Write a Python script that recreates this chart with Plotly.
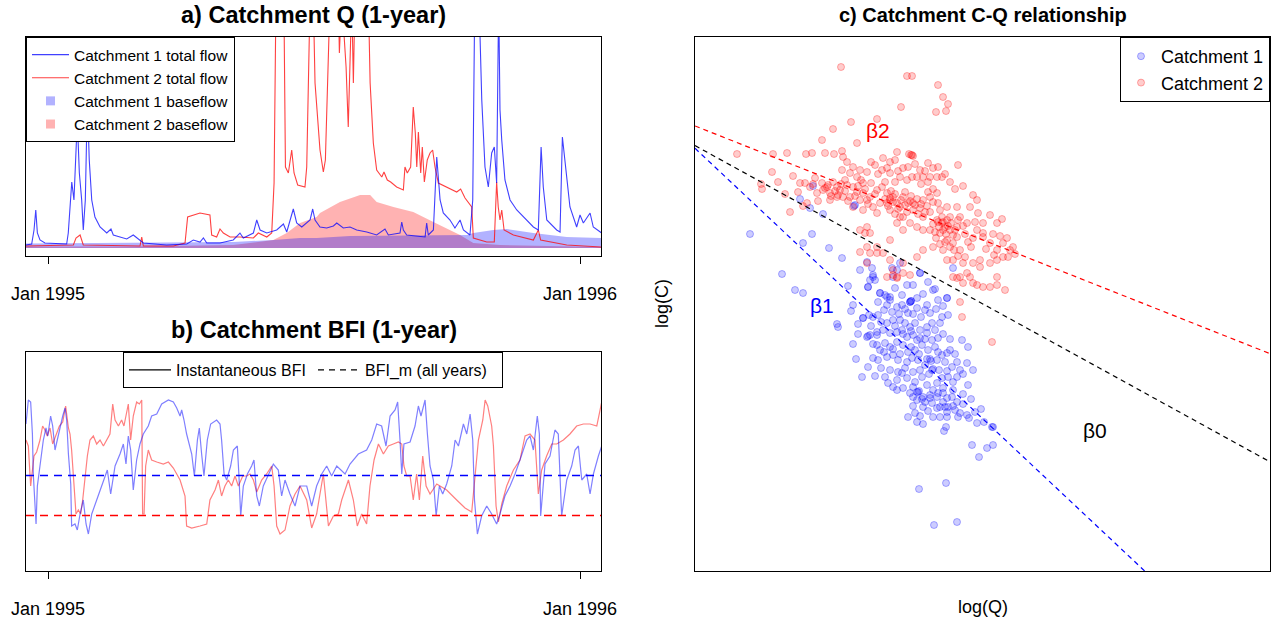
import pandas as pd
import plotly.graph_objects as go

W, H = 1271, 624
FONT = "Liberation Sans, Arial, sans-serif"
BASE = pd.Timestamp("1995-01-01")

# ---------------- data: panel a (day offset from 1 Jan 1995, flow) ----------------
q1_total = [(-15.1, 0.3), (-11.2, 0.4), (-9.6, 1.8), (-8.4, 3.8), (-7.3, 1.5), (-5.5, 0.8), (-2.1, 0.5),
            (12.8, 0.4), (13.9, 1.5), (16.3, 6.6), (17.8, 4.8), (19.2, 8.8), (20.1, 12.8), (21.5, 7.5),
            (23.1, 4.8), (24.2, 1.8), (25.6, 4.8), (27.0, 14.8), (28.3, 8.8), (30.0, 4.8), (32.2, 3.1),
            (35.7, 2.1), (40.3, 1.5), (43.2, 1.9), (44.8, 1.3), (49.4, 1.1), (54.0, 0.9), (58.5, 1.3),
            (60.9, 1.0), (65.4, 0.5), (81.4, 0.3), (95.2, 0.4), (99.7, 0.8), (104.3, 0.6), (106.6, 1.0),
            (108.9, 0.5), (118.0, 0.5), (127.1, 0.8), (131.7, 1.5), (134.0, 1.0), (140.9, 1.5), (143.2, 2.8),
            (145.5, 1.8), (150.1, 1.5), (156.9, 1.8), (161.5, 2.4), (163.8, 1.6), (168.3, 3.9), (170.6, 2.5),
            (174.1, 2.1), (179.8, 2.8), (181.6, 3.9), (183.2, 2.8), (186.6, 2.1), (191.2, 2.0), (195.8, 2.2),
            (198.1, 2.5), (202.6, 2.0), (207.2, 2.1), (211.8, 1.8), (218.7, 1.6), (225.5, 1.3), (231.2, 1.9),
            (233.5, 1.3), (241.5, 1.5), (242.7, 2.6), (243.8, 1.8), (246.1, 1.3), (258.7, 1.1), (259.8, 2.5),
            (260.9, 1.3), (264.4, 1.8), (266.7, 9.1), (269.0, 4.8), (271.2, 3.5), (275.8, 2.8), (279.2, 2.0),
            (282.7, 2.8), (285.0, 1.8), (289.5, 1.3), (291.4, 4.8), (293.0, 28.0), (295.5, 26.0), (297.6, 14.8),
            (299.8, 8.1), (302.1, 6.1), (304.4, 9.5), (306.2, 10.1), (307.8, 6.5), (309.2, 25.0), (310.1, 13.8),
            (311.3, 10.8), (313.5, 6.8), (317.0, 4.8), (321.6, 3.8), (326.1, 3.1), (333.0, 2.1), (336.4, 1.8),
            (337.6, 7.5), (338.3, 10.1), (339.8, 6.1), (342.2, 2.8), (349.0, 1.8), (351.3, 1.6), (352.9, 11.1),
            (354.7, 8.5), (358.1, 4.1), (362.7, 2.1), (365.0, 3.3), (367.3, 2.5), (371.9, 3.5), (374.1, 2.1),
            (379.9, 1.5)]

q2_total = [(-15.1, 0.2), (17.4, 0.3), (19.2, 1.0), (22.0, 1.3), (24.2, 0.3), (63.1, 0.2), (64.3, 1.1),
            (65.4, 0.2), (86.0, 0.2), (94.0, 0.5), (95.8, 3.1), (99.7, 3.3), (104.3, 3.5), (111.1, 3.3),
            (112.3, 1.3), (115.7, 1.1), (118.0, 1.9), (120.3, 1.5), (124.9, 1.1), (131.7, 1.1), (140.9, 1.0),
            (144.3, 1.5), (150.1, 1.1), (153.5, 1.5), (155.1, 6.5), (156.4, 25.0), (161.5, 30.0), (162.9, 8.1),
            (164.9, 7.5), (167.2, 9.8), (168.8, 7.5), (171.3, 6.3), (176.3, 6.1), (177.5, 8.1), (178.6, 14.8),
            (179.8, 25.0), (182.0, 25.0), (183.2, 16.5), (186.6, 9.8), (188.9, 7.6), (190.3, 8.8), (191.6, 14.8),
            (193.5, 25.0), (199.2, 25.0), (199.9, 19.5), (201.5, 25.0), (204.5, 18.1), (206.0, 12.1),
            (207.2, 16.5), (208.4, 25.0), (209.5, 16.5), (210.6, 25.0), (219.8, 25.0), (221.0, 16.5),
            (223.2, 10.5), (225.5, 7.8), (229.0, 7.1), (230.5, 7.6), (232.8, 6.8), (235.1, 6.6), (239.2, 6.1),
            (243.8, 5.8), (244.9, 8.1), (246.5, 7.5), (248.8, 8.1), (250.6, 14.1), (252.0, 11.5), (253.0, 8.1),
            (254.1, 11.6), (255.7, 7.5), (256.8, 10.1), (258.2, 6.6), (260.2, 8.8), (262.1, 9.5), (263.9, 9.8),
            (265.5, 8.1), (267.8, 6.5), (273.5, 6.1), (280.4, 5.6), (283.1, 5.9), (286.1, 5.0), (290.7, 4.1),
            (291.8, 1.0), (301.0, 0.6), (306.2, 0.6), (307.8, 6.6), (308.9, 4.1), (310.1, 2.8), (311.3, 3.8),
            (312.9, 1.8), (319.3, 1.3), (333.0, 0.8), (336.4, 1.8), (338.0, 0.8), (355.9, 0.3), (379.9, 0.1)]

q1_base = [(-15.1, 0.45), (60.0, 0.5), (127.0, 0.6), (154.6, 0.8), (172.9, 1.0), (184.3, 1.0), (207.2, 1.2),
           (287.3, 1.3), (291.8, 1.5), (305.5, 1.8), (314.7, 1.9), (333.0, 1.5), (355.9, 1.1), (379.9, 1.0)]

q2_base = [(-15.1, 0.15), (60.0, 0.15), (127.0, 0.3), (154.6, 0.8), (163.8, 1.5), (172.9, 2.5), (184.3, 3.1),
           (186.6, 3.5), (200.3, 4.6), (214.1, 5.3), (221.0, 5.3), (225.5, 4.6), (237.0, 4.1), (250.6, 3.6),
           (264.4, 2.6), (275.8, 1.8), (282.7, 1.3), (291.8, 0.5), (310.1, 0.3), (379.9, 0.1)]

# ---------------- data: panel b (day offset, instantaneous BFI) ----------------
bfi1 = [(-15.1, 0.83), (-13.5, 0.95), (-11.9, 0.94), (-10.7, 0.78), (-10.1, 0.58), (-8.9, 0.37), (-8.2, 0.33),
        (-7.3, 0.52), (-5.5, 0.62), (-3.2, 0.75), (-1.4, 0.81), (-0.2, 0.77), (1.8, 0.87), (3.2, 0.82),
        (4.8, 0.70), (7.1, 0.78), (10.1, 0.87), (11.7, 0.91), (12.8, 0.85), (14.0, 0.68), (15.6, 0.53),
        (16.2, 0.32), (18.5, 0.33), (20.1, 0.30), (22.0, 0.38), (24.2, 0.45), (26.1, 0.33), (27.7, 0.28),
        (30.0, 0.38), (33.4, 0.45), (36.8, 0.52), (40.7, 0.60), (43.0, 0.48), (46.0, 0.62), (49.4, 0.68),
        (51.7, 0.73), (53.5, 0.63), (55.1, 0.77), (56.7, 0.70), (58.5, 0.50), (60.8, 0.65), (63.1, 0.73),
        (65.4, 0.78), (68.8, 0.82), (71.1, 0.87), (74.6, 0.88), (78.0, 0.93), (82.6, 0.95), (86.0, 0.94),
        (88.3, 0.91), (90.6, 0.87), (91.7, 0.90), (93.3, 0.85), (95.1, 0.78), (98.6, 0.68), (100.4, 0.57),
        (102.5, 0.75), (103.8, 0.81), (105.4, 0.68), (107.0, 0.57), (109.3, 0.75), (111.6, 0.83),
        (115.7, 0.85), (118.0, 0.83), (119.1, 0.75), (120.8, 0.58), (122.6, 0.55), (125.3, 0.62),
        (127.2, 0.70), (129.9, 0.72), (131.0, 0.57), (132.2, 0.37), (134.0, 0.52), (136.8, 0.58),
        (139.7, 0.62), (141.3, 0.65), (143.2, 0.47), (145.0, 0.42), (147.7, 0.52), (151.2, 0.58),
        (154.6, 0.63), (158.0, 0.60), (160.3, 0.47), (162.6, 0.55), (166.0, 0.48), (169.5, 0.42),
        (172.9, 0.52), (177.5, 0.52), (180.9, 0.42), (184.3, 0.52), (187.8, 0.58), (191.2, 0.62),
        (194.6, 0.57), (198.1, 0.62), (203.8, 0.58), (207.2, 0.63), (212.9, 0.68), (218.6, 0.70),
        (222.1, 0.75), (225.5, 0.83), (228.9, 0.82), (231.9, 0.72), (234.7, 0.87), (238.1, 0.90),
        (239.9, 0.94), (241.5, 0.75), (242.7, 0.58), (244.2, 0.73), (248.4, 0.74), (251.8, 0.82),
        (254.1, 0.92), (255.9, 0.87), (258.7, 0.95), (260.3, 0.78), (262.1, 0.62), (264.4, 0.55),
        (266.3, 0.37), (268.5, 0.52), (270.8, 0.48), (273.5, 0.53), (277.0, 0.62), (279.3, 0.75),
        (281.6, 0.72), (285.0, 0.83), (287.3, 0.78), (289.6, 0.88), (291.4, 0.75), (292.6, 0.45),
        (294.6, 0.28), (297.5, 0.37), (301.0, 0.42), (304.4, 0.38), (307.8, 0.33), (310.1, 0.38),
        (313.5, 0.47), (317.0, 0.52), (320.4, 0.58), (323.8, 0.65), (328.4, 0.75), (330.7, 0.77),
        (333.0, 0.70), (335.7, 0.87), (337.1, 0.78), (338.0, 0.37), (341.0, 0.63), (344.4, 0.67),
        (347.8, 0.80), (350.1, 0.78), (352.4, 0.37), (355.9, 0.55), (359.3, 0.62), (361.6, 0.70),
        (363.9, 0.72), (366.2, 0.55), (369.6, 0.58), (371.9, 0.48), (374.2, 0.58), (377.6, 0.67),
        (379.9, 0.72)]

bfi2 = [(-15.1, 0.75), (-13.5, 0.72), (-11.9, 0.52), (-10.5, 0.60), (-9.6, 0.67), (-7.8, 0.69), (-5.5, 0.75),
        (-3.7, 0.82), (-2.1, 0.80), (-0.5, 0.77), (1.4, 0.81), (3.2, 0.73), (5.5, 0.78), (7.8, 0.82),
        (10.1, 0.84), (12.1, 0.92), (14.0, 0.81), (15.1, 0.78), (16.2, 0.70), (17.8, 0.52), (19.2, 0.38),
        (20.8, 0.40), (22.4, 0.38), (23.8, 0.45), (25.4, 0.58), (27.0, 0.67), (28.8, 0.75), (31.1, 0.77),
        (33.4, 0.73), (35.7, 0.75), (38.0, 0.72), (40.3, 0.75), (42.5, 0.78), (44.4, 0.93), (46.0, 0.85),
        (48.3, 0.82), (50.5, 0.85), (52.1, 0.82), (55.1, 0.93), (56.7, 0.75), (58.5, 0.87), (60.8, 0.94),
        (62.7, 0.93), (64.3, 0.95), (64.9, 0.38), (65.9, 0.38), (67.0, 0.62), (68.8, 0.70), (71.1, 0.65),
        (74.6, 0.64), (79.1, 0.63), (82.6, 0.64), (86.0, 0.61), (90.6, 0.55), (94.0, 0.47), (95.1, 0.32),
        (98.6, 0.31), (104.3, 0.32), (108.9, 0.33), (111.1, 0.45), (114.6, 0.50), (116.9, 0.55),
        (119.1, 0.47), (121.4, 0.52), (123.7, 0.55), (126.0, 0.52), (128.3, 0.57), (130.6, 0.52),
        (133.6, 0.57), (136.3, 0.57), (138.6, 0.58), (140.9, 0.55), (143.2, 0.49), (146.6, 0.55),
        (150.0, 0.58), (153.5, 0.62), (155.1, 0.52), (156.9, 0.32), (159.2, 0.28), (162.6, 0.30),
        (166.0, 0.42), (169.5, 0.48), (172.9, 0.52), (177.5, 0.45), (180.9, 0.31), (184.3, 0.38),
        (188.9, 0.58), (192.4, 0.32), (195.8, 0.37), (199.2, 0.38), (201.5, 0.45), (206.1, 0.55),
        (209.5, 0.45), (212.2, 0.32), (215.2, 0.38), (218.6, 0.33), (220.9, 0.52), (223.7, 0.65),
        (226.7, 0.73), (230.1, 0.68), (233.5, 0.72), (236.9, 0.73), (240.4, 0.74), (242.7, 0.73),
        (244.2, 0.62), (246.1, 0.57), (248.4, 0.57), (250.6, 0.45), (252.9, 0.58), (254.8, 0.45),
        (257.1, 0.67), (259.4, 0.52), (262.1, 0.48), (266.7, 0.53), (273.5, 0.50), (280.4, 0.45),
        (286.1, 0.41), (290.7, 0.39), (292.6, 0.55), (295.3, 0.75), (298.3, 0.85), (299.9, 0.95),
        (301.7, 0.92), (304.4, 0.82), (305.6, 0.72), (307.4, 0.42), (309.0, 0.34), (311.3, 0.43),
        (314.7, 0.52), (319.3, 0.60), (323.8, 0.65), (327.3, 0.77), (330.7, 0.78), (334.1, 0.75),
        (336.4, 0.48), (338.7, 0.60), (342.1, 0.67), (345.6, 0.73), (349.0, 0.73), (353.6, 0.75),
        (358.1, 0.78), (362.7, 0.82), (367.3, 0.83), (371.9, 0.83), (376.5, 0.82), (378.8, 0.90),
        (379.9, 0.94)]

bfi_m = [0.572, 0.372]          # long-term BFI, catchment 1 and 2
record_days = [-15.1, 379.9]    # first and last day of the plotted record

# ---------------- data: panel c (log Q, log C) ----------------
cq1 = [(-2.33, 0.70), (-1.71, 0.70), (-1.80, 0.61), (-1.54, 0.56), (-1.41, 0.46), (-2.01, 0.30), (-1.88, 0.14),
       (-1.80, 0.11), (-1.35, 0.18), (-1.23, 0.34), (-1.15, 0.17), (-1.11, 0.36), (-1.10, 0.29), (-1.08, 0.24),
       (-1.16, 0.42), (-1.30, -0.01), (-1.32, -0.07), (-1.46, -0.20), (-1.45, -0.23), (-1.25, -0.20),
       (-1.20, -0.14), (-1.14, -0.11), (-1.15, -0.32), (-1.06, -0.31), (-1.28, 0.99), (-1.73, 0.96),
       (-1.60, 0.90), (-1.83, 1.05), (-1.70, 1.18), (-1.29, 0.98), (-0.91, 0.36), (-0.86, 0.34), (-0.90, 0.27),
       (-0.83, 0.41), (-0.63, 0.31), (-0.30, 0.36), (-0.48, 0.15), (-0.36, 0.06), (-0.73, 0.02), (-1.03, 0.11),
       (-0.96, 0.07), (-0.93, 0.04),
       (-1.13, 0.24), (-1.10, 0.27), (-1.15, 0.17), (-1.03, 0.11), (-0.98, 0.09), (-0.93, 0.07), (-0.81, 0.09),
       (-0.73, 0.02), (-0.72, 0.03), (-0.70, 0.19), (-0.76, 0.19), (-0.63, 0.31), (-0.50, 0.14), (-0.36, 0.06),
       (-0.96, -0.01), (-0.86, -0.03), (-0.81, -0.01), (-0.75, -0.09), (-0.66, -0.04), (-0.58, -0.06),
       (-0.56, -0.01), (-1.20, -0.14), (-1.10, -0.13), (-1.05, -0.11), (-0.96, -0.19), (-0.90, -0.16),
       (-0.83, -0.16), (-0.78, -0.19), (-0.73, -0.23), (-0.68, -0.19), (-0.63, -0.26), (-0.56, -0.23),
       (-0.51, -0.19), (-0.43, -0.19), (-0.41, -0.13), (-0.35, -0.11), (-1.16, -0.33), (-1.13, -0.31),
       (-1.06, -0.28), (-1.00, -0.26), (-0.93, -0.29), (-0.86, -0.28), (-0.81, -0.26), (-0.76, -0.33),
       (-0.70, -0.31), (-0.63, -0.34), (-0.56, -0.29), (-0.51, -0.36), (-0.45, -0.34), (-1.06, -0.41),
       (-1.03, -0.46), (-0.98, -0.39), (-0.93, -0.43), (-0.86, -0.38), (-0.80, -0.41), (-0.75, -0.48),
       (-0.68, -0.46), (-0.61, -0.41), (-0.55, -0.46), (-0.48, -0.43), (-0.41, -0.51), (-0.36, -0.49),
       (-1.10, -0.54), (-1.05, -0.56), (-0.96, -0.53), (-0.90, -0.51), (-0.85, -0.56), (-0.76, -0.58),
       (-0.71, -0.54), (-0.65, -0.56), (-0.58, -0.61), (-0.51, -0.66), (-0.50, -0.65), (-0.46, -0.56),
       (-0.38, -0.58), (-0.31, -0.63), (-0.26, -0.58), (-0.16, -0.59), (-0.21, -0.36), (-0.15, -0.43),
       (-1.21, -0.73), (-1.08, -0.72), (-0.98, -0.73), (-0.95, -0.79), (-0.86, -0.76), (-0.81, -0.69),
       (-0.76, -0.74), (-0.68, -0.78), (-0.61, -0.73), (-0.56, -0.81), (-0.46, -0.79), (-0.41, -0.74),
       (-0.35, -0.73), (-0.26, -0.73), (-0.23, -0.66), (-0.15, -0.81), (-0.86, -0.86), (-0.73, -0.89),
       (-0.66, -0.88), (-0.60, -0.93), (-0.53, -0.91), (-0.45, -0.89), (-0.36, -0.94),
       (-0.65, -0.88), (-0.64, -0.87), (-0.70, -0.93), (-0.61, -0.95), (-0.66, -0.96), (-0.53, -0.94),
       (-0.46, -0.93), (-0.40, -0.89), (-0.31, -0.93), (-0.26, -0.98), (-0.51, -0.99), (-0.43, -1.03),
       (-0.38, -1.03), (-0.35, -1.03), (-0.60, -1.03), (-0.75, -1.13), (-0.68, -1.09), (-0.66, -1.18),
       (-0.60, -1.20), (-0.50, -1.13), (-0.43, -1.13), (-0.36, -1.13), (-0.46, -1.04), (-0.36, -1.08),
       (-0.28, -1.06), (-0.23, -1.09), (-0.16, -1.11), (-0.14, -1.14), (-0.25, -1.13), (-0.06, -1.19),
       (-0.02, -1.05), (0.01, -1.18), (0.09, -1.23), (0.10, -1.23), (-0.37, -1.23), (-0.39, -1.27),
       (-0.11, -1.41), (0.04, -1.44), (0.10, -1.41), (-0.04, -1.53), (-0.37, -1.79), (-0.64, -1.85),
       (-0.49, -2.21), (-0.26, -2.18),
       (-1.05, 0.02), (-0.99, -0.06), (-0.91, -0.08), (-0.84, -0.10), (-0.78, -0.05), (-0.70, -0.10),
       (-0.62, -0.13), (-0.53, -0.09), (-0.47, -0.05), (-1.12, -0.22), (-1.02, -0.18), (-0.88, -0.22),
       (-0.80, -0.30), (-0.72, -0.27), (-0.66, -0.36), (-0.58, -0.35), (-0.48, -0.26), (-0.40, -0.30),
       (-0.33, -0.35), (-1.10, -0.40), (-0.99, -0.48), (-0.90, -0.45), (-0.83, -0.50), (-0.72, -0.43),
       (-0.64, -0.50), (-0.56, -0.55), (-0.45, -0.48), (-0.33, -0.46), (-0.28, -0.50), (-1.15, -0.63),
       (-1.02, -0.64), (-0.93, -0.66), (-0.85, -0.68), (-0.78, -0.64), (-0.70, -0.68), (-0.63, -0.66),
       (-0.54, -0.70), (-0.44, -0.66), (-0.36, -0.67), (-0.30, -0.78), (-0.20, -0.70), (-0.10, -0.66),
       (-0.90, -0.83), (-0.80, -0.84), (-0.70, -0.83), (-0.50, -0.86), (-0.40, -0.84), (-0.30, -0.86),
       (-0.20, -0.90), (-0.55, -1.07), (-0.40, -0.98), (-0.30, -1.02), (-0.20, -1.00), (-0.70, -1.02),
       (-0.58, -0.98), (-0.63, -1.12), (-0.12, -0.95), (-0.08, -1.08), (-1.30, -0.40), (-1.27, -0.55),
       (-1.25, -0.30), (-0.60, 0.10), (-0.66, 0.06), (-0.88, 0.16), (-0.55, 0.22), (-0.45, 0.04),
       (-0.40, -0.02), (-0.52, -0.57), (-0.53, -0.55), (-0.72, 0.03)]

cq2 = [(-1.42, 2.37), (-0.76, 2.28), (-0.71, 2.28), (-0.45, 2.19), (-0.40, 2.07), (-0.35, 2.00), (-0.37, 1.93),
       (-0.47, 1.92), (-0.82, 1.97), (-1.32, 1.82), (-1.06, 1.85), (-1.50, 1.75), (-1.61, 1.64), (-1.26, 1.61),
       (-2.46, 1.50), (-2.10, 1.50), (-1.96, 1.51), (-1.77, 1.50), (-1.71, 1.51), (-1.58, 1.51), (-1.49, 1.50),
       (-1.41, 1.53), (-1.40, 1.47), (-0.86, 1.52), (-0.74, 1.50), (-0.71, 1.49), (-0.70, 1.48), (-0.72, 1.49),
       (-0.55, 1.41), (-0.45, 1.37), (-0.25, 1.39),
       (-1.36, 1.42), (-1.30, 1.37), (-1.41, 1.34), (-1.33, 1.31), (-1.23, 1.34), (-1.16, 1.32), (-1.08, 1.39),
       (-1.00, 1.46), (-0.93, 1.42), (-1.01, 1.34), (-0.93, 1.31), (-0.80, 1.36), (-0.75, 1.37), (-0.71, 1.27),
       (-0.76, 1.24), (-0.66, 1.27), (-0.60, 1.27), (-0.53, 1.27), (-0.46, 1.27), (-0.41, 1.27), (-0.63, 1.34),
       (-0.83, 1.27), (-2.11, 1.32), (-1.26, 1.27), (-1.20, 1.21),
       (-1.83, 1.21), (-1.78, 1.21), (-1.70, 1.20), (-1.61, 1.21), (-1.56, 1.17), (-1.60, 1.14), (-1.53, 1.11),
       (-1.46, 1.17), (-1.43, 1.14), (-1.36, 1.19), (-1.30, 1.17), (-1.40, 1.07), (-1.33, 1.07), (-1.26, 1.12),
       (-1.20, 1.11), (-1.23, 1.04), (-1.13, 1.07), (-1.06, 1.14), (-1.01, 1.17), (-0.96, 1.11), (-0.93, 1.04),
       (-0.86, 1.01), (-0.80, 1.07), (-0.75, 1.01), (-0.70, 1.01), (-0.63, 0.96), (-0.58, 0.92), (-0.60, 1.04),
       (-0.53, 1.07), (-0.46, 1.11), (-0.45, 1.01), (-0.96, 1.01), (-0.90, 1.07), (-0.83, 0.97), (-1.03, 1.01),
       (-1.10, 0.97), (-1.16, 1.04), (-1.46, 1.07), (-1.53, 1.04), (-1.73, 1.17), (-1.66, 1.11), (-2.22, 1.20),
       (-2.21, 1.15), (-0.93, 1.06), (-0.90, 1.02), (-1.58, 1.16), (-1.55, 1.19), (-0.73, 1.03), (-0.68, 0.99),
       (-1.93, 0.92), (-1.76, 1.01), (-1.30, 0.97), (-1.20, 0.94), (-1.06, 0.91), (-0.93, 0.94), (-0.83, 0.87),
       (-0.76, 0.92), (-0.73, 0.81), (-0.86, 0.81), (-0.80, 0.87), (-0.60, 0.87), (-0.53, 0.92), (-0.46, 0.84),
       (-0.41, 0.81), (-0.33, 0.87), (-0.26, 0.97), (-0.23, 0.87), (-0.16, 0.81), (-0.10, 1.09), (-0.06, 1.04),
       (-0.13, 0.97), (-0.05, 0.91), (0.00, 0.81), (0.07, 0.89), (0.14, 0.81), (0.19, 0.85), (-0.40, 0.74),
       (-0.43, 0.71), (-0.33, 0.74), (-0.30, 0.69), (-0.26, 0.77), (-0.53, 0.74), (-0.60, 0.74), (-0.66, 0.77),
       (-0.80, 0.74), (-0.93, 0.64), (-1.16, 0.77), (-1.23, 0.74), (-1.13, 0.71), (-0.43, 0.94), (-0.36, 0.97),
       (-0.06, 0.74), (0.00, 0.71), (-0.45, 0.82), (-0.38, 0.77), (-0.36, 0.84), (-0.41, 0.87),
       (-0.36, 0.64), (-0.30, 0.61), (-0.26, 0.67), (-0.23, 0.54), (-0.33, 0.57), (-0.40, 0.54), (-0.36, 0.44),
       (-0.30, 0.44), (-0.20, 0.41), (-0.10, 0.41), (-0.03, 0.44), (0.00, 0.67), (0.07, 0.61), (0.14, 0.54),
       (0.20, 0.61), (0.27, 0.54), (0.20, 0.47), (0.14, 0.44), (0.07, 0.41), (-0.03, 0.37), (0.30, 0.57),
       (-0.93, 0.44), (-1.00, 0.51), (-1.06, 0.57), (-1.16, 0.57), (-1.23, 0.52), (-0.80, 0.41), (-0.66, 0.47),
       (-0.60, 0.54), (-0.50, 0.57),
       (-0.16, 0.31), (-0.23, 0.27), (-0.30, 0.27), (-0.20, 0.21), (-0.10, 0.21), (0.00, 0.17), (0.07, 0.17),
       (0.14, 0.27), (0.22, 0.14), (-0.90, 0.34), (-0.96, 0.27), (-0.86, 0.27), (-1.16, 0.41), (-1.13, 0.51),
       (-0.26, 0.26), (-0.13, 0.27), (-0.06, 0.19), (0.14, 0.19), (-0.23, 0.02), (-0.21, -0.13), (0.09, -0.38),
       (-0.90, 0.29), (-0.86, 0.26), (-0.80, 0.31), (-0.73, 0.29), (-1.18, 0.71), (-1.06, 0.51),
       (-1.50, 1.22), (-1.45, 1.09), (-1.38, 1.13), (-1.35, 1.03), (-1.28, 1.08), (-1.25, 1.18), (-1.18, 1.15),
       (-1.15, 1.00), (-1.48, 1.13), (-1.42, 1.20), (-1.52, 1.08), (-1.38, 1.24), (-1.22, 1.24), (-1.12, 1.21),
       (-1.08, 1.10), (-0.98, 1.05), (-0.95, 0.98), (-0.88, 1.10), (-0.85, 0.95), (-0.82, 1.04), (-0.78, 0.99),
       (-0.72, 1.08), (-0.66, 1.05), (-0.62, 1.00), (-0.56, 0.98), (-0.50, 1.02), (-0.88, 0.90), (-0.70, 0.94),
       (-0.65, 0.90), (-0.92, 1.13), (-0.78, 1.12), (-0.55, 1.12), (-0.50, 1.15),
       (-0.50, 0.80), (-0.48, 0.72), (-0.44, 0.77), (-0.40, 0.82), (-0.37, 0.70), (-0.35, 0.78), (-0.32, 0.81),
       (-0.28, 0.74), (-0.25, 0.84), (-0.20, 0.78), (-0.18, 0.70), (-0.15, 0.62), (-0.12, 0.57), (-0.10, 0.66),
       (-0.08, 0.82), (-0.38, 0.62), (-0.43, 0.60), (-0.47, 0.66), (-0.29, 0.54), (-0.25, 0.48), (-0.18, 0.47),
       (0.03, 0.55), (0.10, 0.70), (0.17, 0.68), (0.24, 0.66), (0.25, 0.47), (0.32, 0.50), (0.11, 0.49),
       (-1.12, 1.42), (-1.05, 1.30), (-0.96, 1.36), (-0.88, 1.44), (-0.85, 1.33), (-0.68, 1.40), (-0.58, 1.33),
       (-0.50, 1.36), (-0.38, 1.30), (-0.33, 1.22), (-0.28, 1.15), (-0.20, 1.18), (-0.62, 1.20), (-0.55, 1.22),
       (-0.88, 1.22), (-0.98, 1.22), (-2.05, 1.22), (-1.98, 1.10), (-1.90, 1.28), (-1.85, 1.12), (-1.68, 1.26),
       (-1.65, 1.03), (-1.80, 0.98)]

# regression lines: (intercept, slope) for beta0 (all), beta1 (catchment 1), beta2 (catchment 2)
fits = {"b0": (0.00, -0.55), "b1": (-1.15, -0.94), "b2": (0.64, -0.396)}
logq_range = [-2.88, 2.87]
logc_range = [-2.67, 2.67]


def to_dates(days):
    return [BASE + pd.Timedelta(days=float(d)) for d in days]


def split(pairs):
    a, b = zip(*pairs)
    return list(a), list(b)


fig = go.Figure()

# ---- panel a ----
d, v = split(q2_base)
fig.add_trace(go.Scatter(x=to_dates(d), y=v, mode="lines", fill="tozeroy", line=dict(width=0),
                         fillcolor="rgba(255,0,0,0.3)", showlegend=False, xaxis="x", yaxis="y"))
d, v = split(q1_base)
fig.add_trace(go.Scatter(x=to_dates(d), y=v, mode="lines", fill="tozeroy", line=dict(width=0),
                         fillcolor="rgba(0,0,255,0.3)", showlegend=False, xaxis="x", yaxis="y"))
d, v = split(q2_total)
fig.add_trace(go.Scatter(x=to_dates(d), y=v, mode="lines", line=dict(color="rgba(255,0,0,0.75)", width=1.1),
                         name="Catchment 2 total flow", legend="legend", legendrank=2, xaxis="x", yaxis="y"))
d, v = split(q1_total)
fig.add_trace(go.Scatter(x=to_dates(d), y=v, mode="lines", line=dict(color="rgba(0,0,255,0.75)", width=1.1),
                         name="Catchment 1 total flow", legend="legend", legendrank=1, xaxis="x", yaxis="y"))
fig.add_trace(go.Scatter(x=[None], y=[None], mode="markers",
                         marker=dict(symbol="square", size=9, color="rgba(0,0,255,0.3)"),
                         name="Catchment 1 baseflow", legend="legend", legendrank=3, xaxis="x", yaxis="y"))
fig.add_trace(go.Scatter(x=[None], y=[None], mode="markers",
                         marker=dict(symbol="square", size=9, color="rgba(255,0,0,0.3)"),
                         name="Catchment 2 baseflow", legend="legend", legendrank=4, xaxis="x", yaxis="y"))

# ---- panel b ----
d, v = split(bfi2)
fig.add_trace(go.Scatter(x=to_dates(d), y=v, mode="lines", line=dict(color="rgba(255,0,0,0.5)", width=1.2),
                         showlegend=False, xaxis="x2", yaxis="y2"))
d, v = split(bfi1)
fig.add_trace(go.Scatter(x=to_dates(d), y=v, mode="lines", line=dict(color="rgba(0,0,255,0.5)", width=1.2),
                         showlegend=False, xaxis="x2", yaxis="y2"))
for val, col in zip(bfi_m, ["blue", "red"]):
    fig.add_trace(go.Scatter(x=to_dates(record_days), y=[val, val], mode="lines",
                             line=dict(color=col, width=1.5, dash="8px,6px"),
                             showlegend=False, xaxis="x2", yaxis="y2"))
fig.add_trace(go.Scatter(x=[None], y=[None], mode="lines", line=dict(color="black", width=1.2),
                         name="Instantaneous BFI", legend="legend2", xaxis="x2", yaxis="y2"))
fig.add_trace(go.Scatter(x=[None], y=[None], mode="lines", line=dict(color="black", width=1.2, dash="6px,5px"),
                         name="BFI_m (all years)", legend="legend2", xaxis="x2", yaxis="y2"))

# ---- panel c ----
q, c = split(cq1)
fig.add_trace(go.Scatter(x=q, y=c, mode="markers", name="Catchment 1", legend="legend3",
                         marker=dict(size=7, color="rgba(0,0,255,0.2)",
                                     line=dict(color="rgba(0,0,255,0.3)", width=1)),
                         xaxis="x3", yaxis="y3"))
q, c = split(cq2)
fig.add_trace(go.Scatter(x=q, y=c, mode="markers", name="Catchment 2", legend="legend3",
                         marker=dict(size=7, color="rgba(255,0,0,0.2)",
                                     line=dict(color="rgba(255,0,0,0.3)", width=1)),
                         xaxis="x3", yaxis="y3"))
for key, col in [("b2", "red"), ("b0", "black"), ("b1", "blue")]:
    a0, s = fits[key]
    fig.add_trace(go.Scatter(x=logq_range, y=[a0 + s * logq_range[0], a0 + s * logq_range[1]], mode="lines",
                             line=dict(color=col, width=1.2, dash="5px,4px"), showlegend=False,
                             xaxis="x3", yaxis="y3"))

# ---------------- layout ----------------
def fx(p):
    return p / W


def fy(p):
    return 1 - p / H


box = dict(showline=True, mirror=True, linecolor="black", linewidth=1, showgrid=False, zeroline=False,
           automargin=False)
date_range = [str(BASE + pd.Timedelta(days=-15.1)), str(BASE + pd.Timedelta(days=379.4))]
date_axis = dict(type="date", range=date_range, tickmode="array",
                 tickvals=[str(BASE), str(pd.Timestamp("1996-01-01"))], ticktext=["Jan 1995", "Jan 1996"],
                 ticks="outside", ticklen=7, tickcolor="black", tickfont=dict(size=18, color="black"),
                 ticklabelstandoff=14, **box)
noticks = dict(showticklabels=False, ticks="", **box)

fig.update_layout(
    width=W, height=H, autosize=False, margin=dict(l=0, r=0, t=0, b=0, pad=0, autoexpand=False),
    plot_bgcolor="white", paper_bgcolor="white",
    font=dict(family=FONT, color="black"),
    xaxis=dict(domain=[fx(26), fx(601)], anchor="y", **date_axis),
    yaxis=dict(domain=[fy(256), fy(37)], anchor="x", range=[-0.8, 21.1], **noticks),
    xaxis2=dict(domain=[fx(26), fx(601)], anchor="y2", **date_axis),
    yaxis2=dict(domain=[fy(571), fy(352)], anchor="x2", range=[0.095, 1.19], **noticks),
    xaxis3=dict(domain=[fx(695), fx(1270)], anchor="y3", range=logq_range, **noticks),
    yaxis3=dict(domain=[fy(571), fy(37)], anchor="x3", range=logc_range, **noticks),
    legend=dict(x=fx(26), y=fy(37), xanchor="left", yanchor="top", bgcolor="white",
                bordercolor="black", borderwidth=1, font=dict(size=15.5, family=FONT), itemwidth=37,
                tracegroupgap=0),
    legend2=dict(x=fx(123), y=fy(352), xanchor="left", yanchor="top", orientation="h", bgcolor="white",
                 bordercolor="black", borderwidth=1, font=dict(size=16, family=FONT), itemwidth=42,
                 entrywidth=132, entrywidthmode="pixels"),
    legend3=dict(x=fx(1270), y=fy(37), xanchor="right", yanchor="top", bgcolor="white",
                 bordercolor="black", borderwidth=1, font=dict(size=18, family=FONT), itemwidth=30),
)

ab_title = dict(size=23.5, family=FONT, color="black")
c_title = dict(size=20, family=FONT, color="black")
annos = [
    dict(text="<b>a) Catchment Q (1-year)</b>", x=fx(313.5), y=fy(15), font=ab_title),
    dict(text="<b>b) Catchment BFI (1-year)</b>", x=fx(313.5), y=fy(330), font=ab_title),
    dict(text="<b>c) Catchment C-Q relationship</b>", x=fx(983), y=fy(15), font=c_title),
    dict(text="log(Q)", x=fx(983), y=fy(607), font=dict(size=18, family=FONT)),
    dict(text="log(C)", x=fx(662), y=fy(304), textangle=-90, font=dict(size=18, family=FONT)),
]
for a in annos:
    fig.add_annotation(xref="paper", yref="paper", xanchor="center", yanchor="middle", showarrow=False, **a)

beta_labels = [("β2", -1.05, 1.74, "red"), ("β1", -1.61, -0.01, "blue"), ("β0", 1.12, -1.26, "black")]
for txt, xq, yc, col in beta_labels:
    fig.add_annotation(text=txt, x=xq, y=yc, xref="x3", yref="y3", showarrow=False,
                       font=dict(size=21, family=FONT, color=col))

fig.write_html("out.html")
